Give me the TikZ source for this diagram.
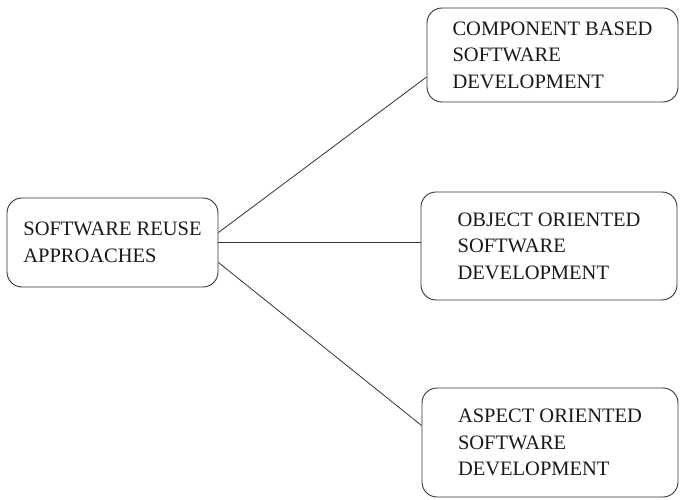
\documentclass[tikz,border=0pt]{standalone}
\usepackage{fontspec}
\setmainfont{Liberation Serif}
\usetikzlibrary{positioning}
\tikzset{
	approach/.style={draw=black!80, line width=0.9pt, rectangle, rounded corners=15pt, align=left, inner sep=2pt, text=black!90, font=\fontsize{20.5}{26.5}\selectfont},
}

\begin{document}
\begin{tikzpicture}[x=1pt, y=-1pt]
			\useasboundingbox (0,0) rectangle (680,500);
			
			\node (reuse) [approach, minimum width=211pt, minimum height=89pt] at (112.5,242.5) {SOFTWARE REUSE\\APPROACHES};
			
			\node (cbsd) [approach, minimum width=251pt, minimum height=94pt] at (552.5,55) {COMPONENT BASED\\SOFTWARE\\DEVELOPMENT};
			\node (oosd) [approach, minimum width=256pt, minimum height=108pt] at (549,246) {OBJECT ORIENTED\\SOFTWARE\\DEVELOPMENT};
			\node (aosd) [approach, minimum width=256pt, minimum height=109pt] at (550,442.5) {ASPECT ORIENTED\\SOFTWARE\\DEVELOPMENT};
			
			\begin{scope}[black!80, line width=0.8pt]
				\draw ([yshift=10pt]reuse.east) -- ([yshift=-22pt]cbsd.west);
				\draw (reuse.east) -- (reuse.east -| oosd.west);
				\draw ([yshift=-20pt]reuse.east) -- ([yshift=17pt]aosd.west);
			\end{scope}
		\end{tikzpicture}
\end{document}
